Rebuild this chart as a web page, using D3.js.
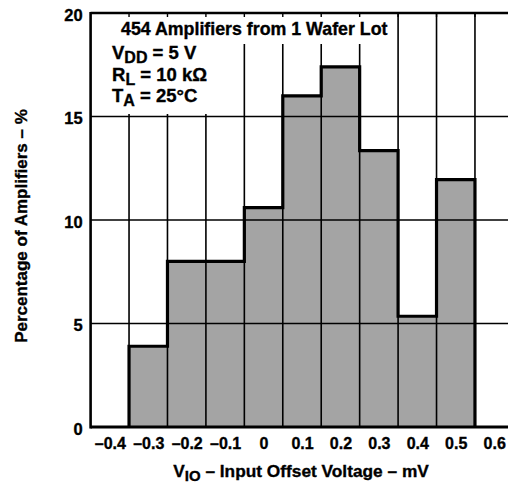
<!DOCTYPE html>
<html><head><meta charset="utf-8">
<script src="https://cdn.jsdelivr.net/npm/d3@7"></script>
<style>
body{margin:0;background:#fff;}
svg{display:block;font-family:"Liberation Sans",Arial,Helvetica,sans-serif;font-weight:bold;}
svg text{stroke:#000;stroke-width:0.35px;}
</style></head>
<body>
<script>
// Data
const binCenters = [-0.3, -0.2, -0.1, 0.0, 0.1, 0.2, 0.3, 0.4, 0.5];
const percentages = [3.9, 8.0, 8.0, 10.6, 16.0, 17.4, 13.35, 5.35, 11.95];
const binWidth = 0.1;
const xTicks = [-0.4, -0.3, -0.2, -0.1, 0, 0.1, 0.2, 0.3, 0.4, 0.5, 0.6];
const xTickLabels = ["–0.4", "–0.3", "–0.2", "–0.1", "0", "0.1", "0.2", "0.3", "0.4", "0.5", "0.6"];
const yTicks = [0, 5, 10, 15, 20];
const vGrid = [-0.35, -0.25, -0.15, -0.05, 0.05, 0.15, 0.25, 0.35, 0.45, 0.55];
const hGrid = [5, 10, 15];

const W = 508, H = 485;
const svg = d3.select("body").append("svg").attr("width", W).attr("height", H);
svg.append("rect").attr("width", W).attr("height", H).attr("fill", "#fff");

const x = d3.scaleLinear().domain([-0.45, 0.65]).range([90.6, 513.4]);
const y = d3.scaleLinear().domain([0, 20]).range([427, 13]);

const bars = binCenters.map((c, i) => ({x0: c - binWidth / 2, x1: c + binWidth / 2, v: percentages[i]}));

// bars fill
svg.append("g").selectAll("rect").data(bars).join("rect")
  .attr("x", d => x(d.x0)).attr("y", d => y(d.v))
  .attr("width", d => x(d.x1) - x(d.x0)).attr("height", d => y(0) - y(d.v))
  .attr("fill", "#a4a4a4");

// grid
const g = svg.append("g").attr("stroke", "#000").attr("stroke-width", 1.6);
g.selectAll("line.v").data(vGrid).join("line").attr("class", "v")
  .attr("x1", d => x(d)).attr("x2", d => x(d)).attr("y1", y(0)).attr("y2", y(20));
g.selectAll("line.h").data(hGrid).join("line").attr("class", "h")
  .attr("x1", x(-0.45)).attr("x2", x(0.65)).attr("y1", d => y(d)).attr("y2", d => y(d));

// legend boxes (white, covering grid)
svg.append("rect").attr("x", x(-0.45) + 1).attr("y", y(20) + 1)
  .attr("width", 395 - x(-0.45)).attr("height", 43 - y(20)).attr("fill", "#fff");
svg.append("rect").attr("x", x(-0.45) + 1).attr("y", y(20) + 1)
  .attr("width", 237 - x(-0.45)).attr("height", 113 - y(20)).attr("fill", "#fff");

// small top ticks
svg.append("g").attr("stroke", "#000").attr("stroke-width", 1.4)
  .selectAll("line").data(vGrid).join("line")
  .attr("x1", d => x(d)).attr("x2", d => x(d)).attr("y1", y(20)).attr("y2", y(20) + 4);

// histogram outline
const pts = [[bars[0].x0, 0]];
bars.forEach(b => { pts.push([b.x0, b.v]); pts.push([b.x1, b.v]); });
pts.push([bars[bars.length - 1].x1, 0]);
svg.append("path")
  .attr("d", d3.line().x(d => x(d[0])).y(d => y(d[1]))(pts))
  .attr("fill", "none").attr("stroke", "#000").attr("stroke-width", 3.2)
  .attr("stroke-linejoin", "miter");

// frame
svg.append("line").attr("x1", x(-0.45)).attr("x2", x(-0.45)).attr("y1", y(20) - 1).attr("y2", y(0) + 1.5)
  .attr("stroke", "#000").attr("stroke-width", 2.6);
svg.append("line").attr("x1", x(-0.45)).attr("x2", W).attr("y1", y(0)).attr("y2", y(0))
  .attr("stroke", "#000").attr("stroke-width", 3);
svg.append("line").attr("x1", x(-0.45)).attr("x2", W).attr("y1", y(20)).attr("y2", y(20))
  .attr("stroke", "#000").attr("stroke-width", 2.4);

// axes
const xAxis = d3.axisBottom(x).tickValues(xTicks).tickSize(0).tickPadding(0)
  .tickFormat((d, i) => xTickLabels[i]);
const xa = svg.append("g").attr("transform", `translate(0,${y(0)})`).call(xAxis);
xa.select(".domain").remove();
xa.selectAll("text").attr("font-size", 16).attr("font-family", null).attr("fill", "#000")
  .attr("dy", null).attr("y", 22);

const yAxis = d3.axisLeft(y).tickValues(yTicks).tickSize(0).tickPadding(8);
const ya = svg.append("g").attr("transform", `translate(${x(-0.45)},0)`).call(yAxis);
ya.select(".domain").remove();
ya.selectAll("text").attr("font-size", 16.5).attr("font-family", null).attr("fill", "#000")
  .attr("dy", "0.45em");

// legend text
svg.append("text").attr("x", 121).attr("y", 35).attr("font-size", 17.8)
  .text("454 Amplifiers from 1 Wafer Lot");
const params = [["V", "DD", " = 5 V", 59], ["R", "L", " = 10 kΩ", 81], ["T", "A", " = 25°C", 102]];
params.forEach(p => {
  const t = svg.append("text").attr("x", 112).attr("y", p[3]).attr("font-size", 18.5);
  t.append("tspan").text(p[0]);
  t.append("tspan").attr("dy", 4).attr("font-size", 16).text(p[1]);
  t.append("tspan").attr("dy", -4).text(p[2]);
});

// axis titles
const xt = svg.append("text").attr("x", 301).attr("y", 477).attr("text-anchor", "middle").attr("font-size", 17.3);
xt.append("tspan").text("V");
xt.append("tspan").attr("dy", 4).attr("font-size", 15).text("IO");
xt.append("tspan").attr("dy", -4).text(" – Input Offset Voltage – mV");

svg.append("text").attr("transform", "translate(27,226) rotate(-90)")
  .attr("text-anchor", "middle").attr("font-size", 17)
  .text("Percentage of Amplifiers – %");
</script>
</body></html>
